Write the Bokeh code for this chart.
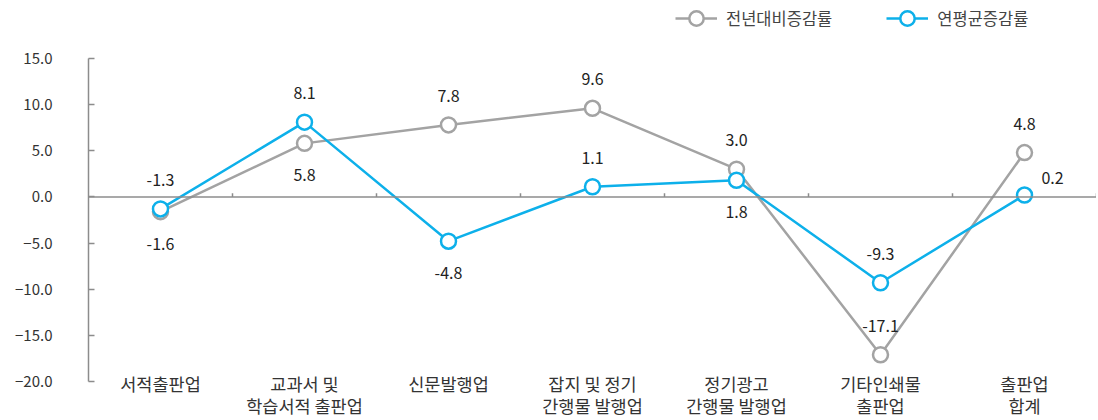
import numpy as np
from bokeh.plotting import figure
from bokeh.models import (ColumnDataSource, Range1d, FixedTicker, Span, Legend, LegendItem)
from bokeh.core.properties import value
from bokeh.embed import file_html
from bokeh.resources import INLINE

categories = ["서적출판업", "교과서 및\n학습서적 출판업", "신문발행업", "잡지 및 정기\n간행물 발행업",
              "정기광고\n간행물 발행업", "기타인쇄물\n출판업", "출판업\n합계"]
yoy_change = [-1.6, 5.8, 7.8, 9.6, 3.0, -17.1, 4.8]      # 전년대비증감률
annual_avg = [-1.3, 8.1, -4.8, 1.1, 1.8, -9.3, 0.2]      # 연평균증감률
series_names = ["전년대비증감률", "연평균증감률"]
y_ticks = [-20, -15, -10, -5, 0, 5, 10, 15]
y_tick_labels = ["−20.0", "−15.0", "−10.0", "−5.0", "0.0", "5.0", "10.0", "15.0"]

# label placement (style only)
yoy_label_pos = ["below", "below", "above", "above", "above", "above", "above"]
avg_label_pos = ["above", "above", "below", "above", "below", "above", "right"]

FONT = "Noto Sans CJK KR"
GRAY = "#A3A3A3"
BLUE = "#0DB0EA"
AXIS = "#8C8C8C"

n = len(categories)
xc = np.arange(n) + 0.5

H = 419
# frame covers the full height; axis drawn only between -20 and 15
y_lo, y_hi = -24.12, 21.28

p = figure(width=1096, height=H, output_backend="svg", toolbar_location=None,
           x_range=Range1d(0, n), y_range=Range1d(y_lo, y_hi),
           min_border_left=88, min_border_right=0, min_border_top=0, min_border_bottom=0)
p.outline_line_color = None
p.grid.visible = False
p.xaxis.visible = False
p.background_fill_color = "white"

# y axis
p.yaxis.bounds = (min(y_ticks), max(y_ticks))
p.yaxis.ticker = FixedTicker(ticks=y_ticks)
p.yaxis.major_label_overrides = {t: l for t, l in zip(y_ticks, y_tick_labels)}
p.yaxis.axis_line_color = AXIS
p.yaxis.axis_line_width = 1.5
p.yaxis.major_tick_line_color = AXIS
p.yaxis.major_tick_line_width = 1.5
p.yaxis.major_tick_in = 6
p.yaxis.major_tick_out = 0
p.yaxis.minor_tick_line_color = None
p.yaxis.major_label_standoff = 36
p.yaxis.major_label_text_font = FONT
p.yaxis.major_label_text_font_size = "15px"
p.yaxis.major_label_text_color = "#333333"

# zero line with category boundary ticks
p.add_layout(Span(location=0, dimension="width", line_color=AXIS, line_width=1.5))
bounds = np.arange(1, n + 1)
p.segment(x0=bounds, x1=bounds, y0=0, y1=0.4, line_color=AXIS, line_width=1.5)

# category labels below the plot area
cat_src = ColumnDataSource(dict(x=xc, y=[min(y_ticks)] * n, t=categories))
p.text("x", "y", text="t", source=cat_src, y_offset=-10, text_align="center",
       text_baseline="top", text_font=value(FONT), text_font_size="17.5px",
       text_color="#333333", text_line_height=0.86)

def offsets(pos):
    xo, yo = [], []
    for ps in pos:
        if ps == "above":
            xo.append(0); yo.append(-29)
        elif ps == "below":
            xo.append(0); yo.append(32)
        else:
            xo.append(28); yo.append(-17)
    return xo, yo

items = []
for vals, pos, color, name in [(yoy_change, yoy_label_pos, GRAY, series_names[0]),
                               (annual_avg, avg_label_pos, BLUE, series_names[1])]:
    xo, yo = offsets(pos)
    src = ColumnDataSource(dict(x=xc, y=vals, t=[f"{v:.1f}" for v in vals], xo=xo, yo=yo))
    l = p.line("x", "y", source=src, line_color=color, line_width=2.5)
    s = p.scatter("x", "y", source=src, size=15, fill_color="white", line_color=color, line_width=2.5)
    p.text("x", "y", text="t", source=src, x_offset="xo", y_offset="yo",
           text_align="center", text_baseline="middle", text_font=value(FONT),
           text_font_size="16px", text_color="#222222")
    items.append(LegendItem(label=name, renderers=[l, s]))

legend = Legend(items=items, orientation="horizontal", location=(587, H - 36),
                label_text_font=FONT, label_text_font_size="16.5px", label_text_color="#444444",
                glyph_width=42, glyph_height=36, label_height=36, spacing=54,
                padding=0, margin=0, border_line_color=None, background_fill_alpha=0,
                label_standoff=9)
p.add_layout(legend, "center")

open("out.html", "w").write(file_html(p, INLINE))
